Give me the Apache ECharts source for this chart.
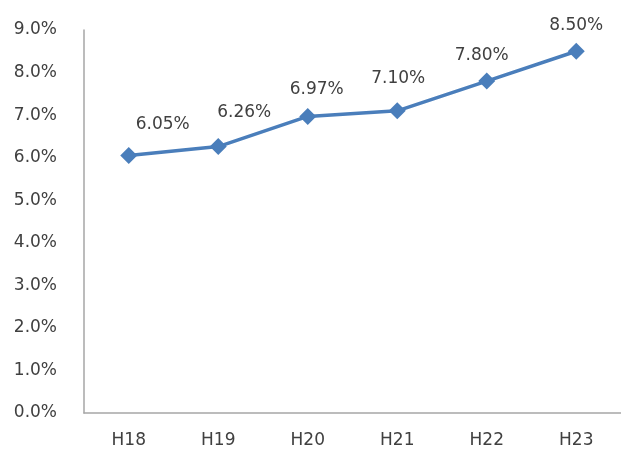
<!DOCTYPE html>
<html><head><meta charset="utf-8">
<script src="https://cdn.jsdelivr.net/npm/echarts@6/dist/echarts.min.js"></script>
<style>html,body{margin:0;padding:0;background:#fff}#c{width:621px;height:450px}</style>
</head><body><div id="c"></div>
<script>
var categories = ['H18','H19','H20','H21','H22','H23'];
var values = [6.05, 6.26, 6.97, 7.10, 7.80, 8.50];
var yMin = 0, yMax = 9, yStep = 1;

// label placement (style only), relative to each marker centre
var labelShift = [[34,-31],[26,-34],[9,-27],[1,-32],[-5,-25],[0,-26]];

var FONT = 'DejaVu Sans';
var chart = echarts.init(document.getElementById('c'));
chart.setOption({
  animation: false,
  grid: {left: 84, top: 30, width: 540, bottom: 37, containLabel: false},
  xAxis: {
    type: 'category', data: categories, boundaryGap: true,
    axisLine: {lineStyle: {color: '#a6a6a6', width: 1.5}},
    axisTick: {show: false},
    axisLabel: {margin: 19, fontSize: 17, color: '#404040', fontFamily: FONT}
  },
  yAxis: {
    type: 'value', min: yMin, max: yMax, interval: yStep,
    axisLine: {show: true, lineStyle: {color: '#a6a6a6', width: 1.5}},
    axisTick: {show: false},
    splitLine: {show: false},
    axisLabel: {margin: 27, fontSize: 17, color: '#404040', fontFamily: FONT,
      formatter: function(v){return v.toFixed(1)+'%';}}
  },
  series: [{
    type: 'line',
    data: values.map(function(v, i){
      return {value: v, label: {offset: labelShift[i]}};
    }),
    symbol: 'diamond', symbolSize: 17,
    lineStyle: {color: '#4a7ebb', width: 3.5},
    itemStyle: {color: '#4a7ebb'},
    label: {show: true, position: 'inside', fontSize: 17, color: '#404040',
      fontFamily: FONT,
      formatter: function(p){return p.value.toFixed(2)+'%';}}
  }]
});
</script></body></html>
